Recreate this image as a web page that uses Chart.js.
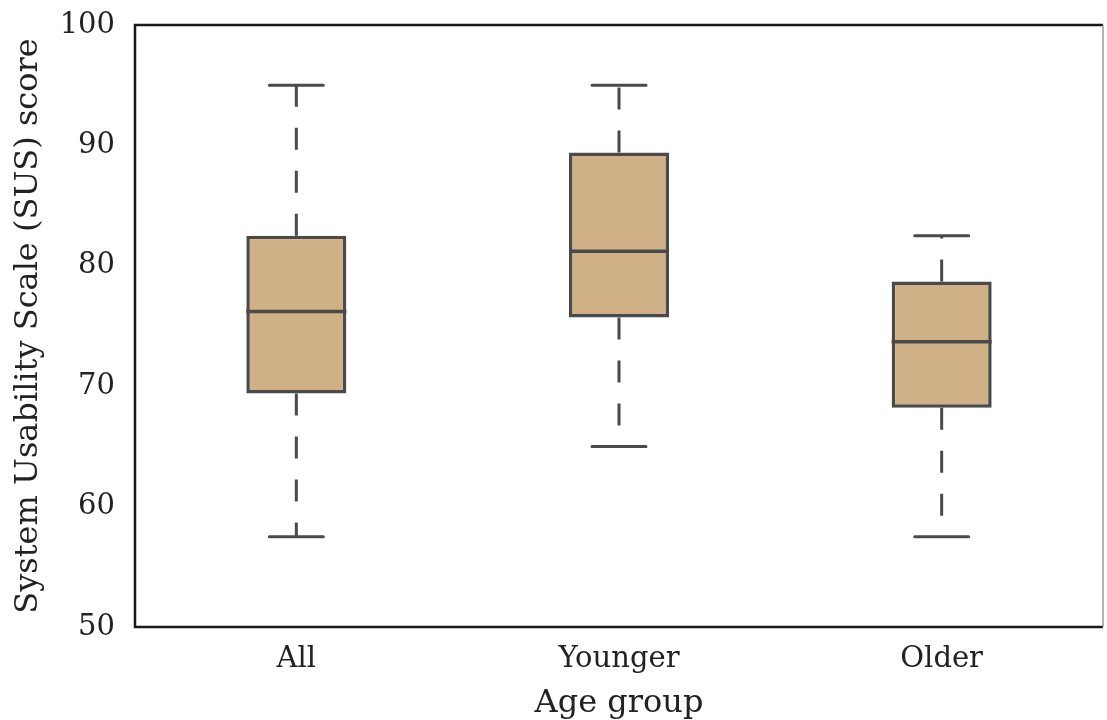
<!DOCTYPE html>
<html>
<head>
<meta charset="utf-8">
<script src="https://cdn.jsdelivr.net/npm/chart.js@4"></script>
<style>
  html, body { margin: 0; padding: 0; background: #fff; }
  #wrap { width: 1107px; height: 720px; }
</style>
</head>
<body>
<div id="wrap"><canvas id="sus"></canvas></div>
<script>
// groups and the five-number summary
const groups = ['All', 'Younger', 'Older'];
const whiskerLow = [57.5, 65, 57.5];
const q1 = [69.4, 75.7, 68.2];
const median = [76.2, 81.2, 73.7];
const q3 = [82.5, 89.4, 78.7];
const whiskerHigh = [95, 95, 82.5];
const yTicks = [50, 60, 70, 80, 90, 100];

const lineCol = '#4a4a4a';
const boxFill = '#d0b087';
const textCol = '#222222';
const fontFam = "'DejaVu Serif', serif";

// whiskers, caps, medians and the frame, drawn from the same scales
const boxExtras = {
    id: 'boxExtras',
    afterDatasetsDraw(chart) {
        const ctx = chart.ctx;
        const y = chart.scales.y;
        const bars = chart.getDatasetMeta(0).data;
        ctx.save();
        ctx.strokeStyle = lineCol;
        bars.forEach((bar, i) => {
            const cx = bar.x;
            const half = bar.width / 2;
            const capHalf = bar.width * 0.27;
            // median
            ctx.setLineDash([]);
            ctx.lineWidth = 3.5;
            ctx.beginPath();
            ctx.moveTo(cx - half, y.getPixelForValue(median[i]));
            ctx.lineTo(cx + half, y.getPixelForValue(median[i]));
            ctx.stroke();
            // dashed whiskers, drawn outward from the box
            ctx.lineWidth = 3;
            ctx.setLineDash([22, 21]);
            ctx.beginPath();
            ctx.moveTo(cx, y.getPixelForValue(q3[i]));
            ctx.lineTo(cx, y.getPixelForValue(whiskerHigh[i]));
            ctx.moveTo(cx, y.getPixelForValue(q1[i]));
            ctx.lineTo(cx, y.getPixelForValue(whiskerLow[i]));
            ctx.stroke();
            // caps
            ctx.setLineDash([]);
            ctx.lineCap = 'round';
            ctx.beginPath();
            ctx.moveTo(cx - capHalf, y.getPixelForValue(whiskerHigh[i]));
            ctx.lineTo(cx + capHalf, y.getPixelForValue(whiskerHigh[i]));
            ctx.moveTo(cx - capHalf, y.getPixelForValue(whiskerLow[i]));
            ctx.lineTo(cx + capHalf, y.getPixelForValue(whiskerLow[i]));
            ctx.stroke();
            ctx.lineCap = 'butt';
        });
        // frame
        const a = chart.chartArea;
        ctx.strokeStyle = '#1a1a1a';
        ctx.lineWidth = 2.5;
        ctx.beginPath();
        ctx.moveTo(a.right, a.top);
        ctx.lineTo(a.left, a.top);
        ctx.lineTo(a.left, a.bottom);
        ctx.lineTo(a.right, a.bottom);
        ctx.stroke();
        ctx.strokeStyle = '#9a9a9a';
        ctx.lineWidth = 1.5;
        ctx.beginPath();
        ctx.moveTo(a.right, a.top);
        ctx.lineTo(a.right, a.bottom);
        ctx.stroke();
        ctx.restore();
    }
};

const ctx = document.getElementById('sus').getContext('2d');
new Chart(ctx, {
    type: 'bar',
    data: {
        labels: groups,
        datasets: [{
            label: 'SUS',
            data: groups.map((g, i) => [q1[i], q3[i]]),
            backgroundColor: boxFill,
            borderColor: lineCol,
            borderWidth: 3.5,
            borderSkipped: false,
            barPercentage: 0.31,
            categoryPercentage: 1
        }]
    },
    options: {
        responsive: true,
        maintainAspectRatio: false,
        animation: false,
        layout: { padding: { top: 25, right: 4, left: 0, bottom: 0 } },
        plugins: {
            legend: { display: false },
            tooltip: { enabled: false }
        },
        scales: {
            x: {
                grid: { display: false, drawTicks: false },
                border: { display: false },
                ticks: { color: textCol, font: { family: fontFam, size: 29 }, padding: 15 },
                title: {
                    display: true,
                    text: 'Age group',
                    color: textCol,
                    font: { family: fontFam, size: 32 },
                    padding: { top: 11, bottom: -3 }
                },
                afterFit: s => { s.height = 93; s.paddingLeft = 0; s.paddingRight = 0; }
            },
            y: {
                min: 50,
                max: 100,
                afterBuildTicks: s => { s.ticks = yTicks.map(v => ({ value: v })); },
                grid: { display: false, drawTicks: false },
                border: { display: false },
                ticks: { color: textCol, font: { family: fontFam, size: 29 }, padding: 20 },
                title: {
                    display: true,
                    text: 'System Usability Scale (SUS) score',
                    color: textCol,
                    font: { family: fontFam, size: 32 },
                    padding: { bottom: 0, top: 9 }
                },
                afterFit: s => { s.width = 135; s.paddingTop = 0; s.paddingBottom = 0; }
            }
        }
    },
    plugins: [boxExtras]
});
</script>
</body>
</html>
